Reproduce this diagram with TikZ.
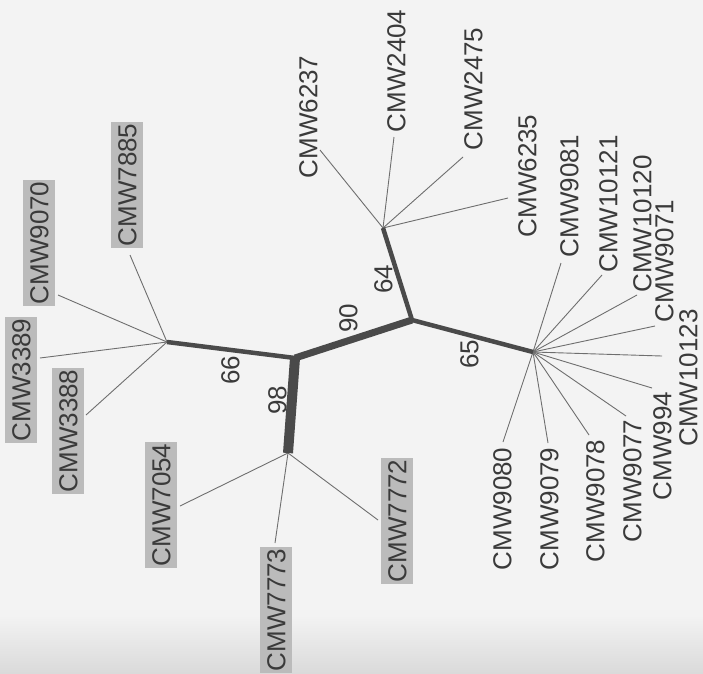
\documentclass[tikz,border=0pt]{standalone}
\usepackage{fontspec}
\setmainfont{Liberation Sans}
\definecolor{bg}{HTML}{F3F3F3}
\definecolor{bgdark}{HTML}{DADADA}
\definecolor{txt}{HTML}{3A3A3A}
\definecolor{boxgray}{HTML}{BBBBBB}
\definecolor{leafc}{HTML}{6E6E6E}
\definecolor{brc}{HTML}{4A4A4A}
\begin{document}
\begin{tikzpicture}[x=1pt,y=-1pt,
  lbl/.style={rotate=90, font=\fontsize{26}{26}\selectfont, text=txt,
    inner xsep=2pt, inner ysep=6.5pt, text height=18.6pt, text depth=0pt},
  shaded/.style={lbl, fill=boxgray},
  boot/.style={rotate=90, font=\fontsize{26}{26}\selectfont, text=txt,
    inner sep=0pt, text height=18.6pt, text depth=0pt},
  leaf/.style={draw=leafc, line width=0.9pt},
  br/.style={draw=brc, line cap=butt, line join=round}]
\useasboundingbox (0,0) rectangle (703,673);
\fill[bg] (0,0) rectangle (703,673);
\shade[top color=bg, bottom color=bgdark] (0,615) rectangle (703,673);

% internal nodes
\coordinate (A) at (295,358);
\coordinate (B) at (412,320);
\coordinate (C) at (383,228);
\coordinate (D) at (533,352);
\coordinate (E) at (167,342);
\coordinate (F) at (288,453);

% leaf tips
\coordinate (t7885) at (130,255);
\coordinate (t9070) at (58,295);
\coordinate (t3389) at (40,358);
\coordinate (t3388) at (86,415);
\coordinate (t7054) at (180,506);
\coordinate (t7773) at (275,543);
\coordinate (t7772) at (378,520);
\coordinate (t6237) at (320,150);
\coordinate (t2404) at (394,137);
\coordinate (t2475) at (463,157);
\coordinate (t6235) at (508,198);
\coordinate (t9081) at (561,263);
\coordinate (t10121) at (602,275);
\coordinate (t10120) at (637,295);
\coordinate (t9071) at (655,326);
\coordinate (t10123) at (662,356);
\coordinate (t994) at (652,388);
\coordinate (t9077) at (626,416);
\coordinate (t9078) at (589,435);
\coordinate (t9079) at (548,443);
\coordinate (t9080) at (503,442);

% leaf branches
\foreach \t in {7885,9070,3389,3388} \draw[leaf] (E) -- (t\t);
\foreach \t in {7054,7773,7772} \draw[leaf] (F) -- (t\t);
\foreach \t in {6237,2404,2475,6235} \draw[leaf] (C) -- (t\t);
\foreach \t in {9081,10121,10120,9071,10123,994,9077,9078,9079,9080} \draw[leaf] (D) -- (t\t);

% internal branches
\draw[br, line width=4.5pt] (E) -- (A);
\draw[br, line width=4.5pt] (B) -- (C);
\draw[br, line width=4.5pt] (B) -- (D);
\draw[br, line width=7pt] (A) -- (B);
\draw[br, line width=10pt] (A) -- (F);

% bootstrap values
\node[boot] (b66) at (230,370) {66};
\node[boot] (b98) at (277,400) {98};
\node[boot] (b90) at (348,318) {90};
\node[boot] (b64) at (383,279) {64};
\node[boot] (b65) at (469,354) {65};

% shaded labels
\node[shaded] (n7885) at (127,185) {CMW7885};
\node[shaded] (n9070) at (39,243) {CMW9070};
\node[shaded] (n3389) at (21,380) {CMW3389};
\node[shaded] (n3388) at (68,431) {CMW3388};
\node[shaded] (n7054) at (161,505) {CMW7054};
\node[shaded] (n7773) at (276,610) {CMW7773};
\node[shaded] (n7772) at (397,521) {CMW7772};

% plain labels
\node[lbl] (n6237) at (308,117) {CMW6237};
\node[lbl] (n2404) at (396,71) {CMW2404};
\node[lbl] (n2475) at (473,89) {CMW2475};
\node[lbl] (n6235) at (527,176) {CMW6235};
\node[lbl] (n9081) at (569,196) {CMW9081};
\node[lbl] (n10121) at (608,204) {CMW10121};
\node[lbl] (n10120) at (642,224) {CMW10120};
\node[lbl] (n9071) at (664,261) {CMW9071};
\node[lbl] (n10123) at (688,378) {CMW10123};
\node[lbl] (n994) at (662,446) {CMW994};
\node[lbl] (n9077) at (632,481) {CMW9077};
\node[lbl] (n9078) at (595,501) {CMW9078};
\node[lbl] (n9079) at (549,509) {CMW9079};
\node[lbl] (n9080) at (502,509) {CMW9080};
\end{tikzpicture}
\end{document}
